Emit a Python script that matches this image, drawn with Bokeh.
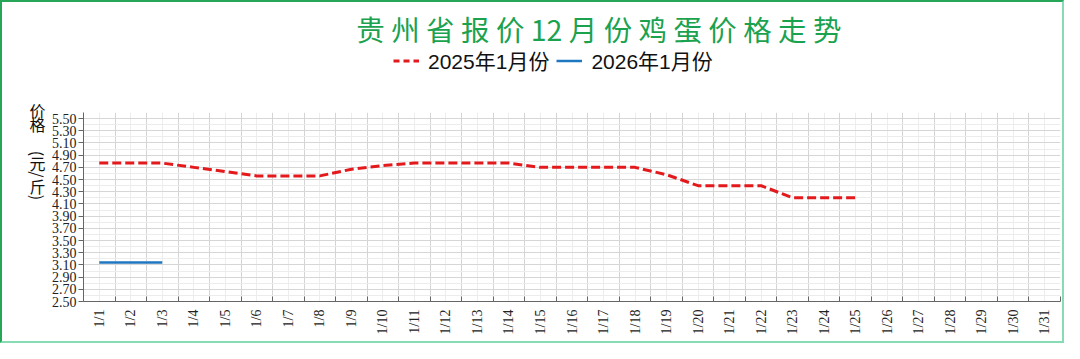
import math
from bokeh.plotting import figure
from bokeh.models import FixedTicker, Label, Legend, LegendItem, Range1d
from bokeh.layouts import column, row
from bokeh.embed import file_html
from bokeh.resources import INLINE

# ---- data ----
days = [f"1/{d}" for d in range(1, 32)]
price_2025 = [4.77, 4.77, 4.77, 4.70, 4.63, 4.56, 4.56, 4.56, 4.67, 4.73,
              4.77, 4.77, 4.77, 4.77, 4.70, 4.70, 4.70, 4.70, 4.58, 4.40,
              4.40, 4.40, 4.20, 4.20, 4.20]
price_2026 = [3.14, 3.14, 3.14]
y_ticks = [2.50, 2.70, 2.90, 3.10, 3.30, 3.50, 3.70, 3.90, 4.10, 4.30,
           4.50, 4.70, 4.90, 5.10, 5.30, 5.50]
title_text = "贵 州 省 报 价 12 月 份 鸡 蛋 价 格 走 势"
series_names = ["2025年1月份", "2026年1月份"]
y_title_upright = ["价", "格", "元", "斤"]
y_title_rotated = ["(", "/", ")"]

RED, BLUE, GREEN = "#e3191c", "#1f77c0", "#1ba24f"
CJK = "Noto Sans CJK SC"
TOP_H, MAIN_H, LEFT_W, MAIN_W = 97, 242, 46, 1014
BL, BR = 32, 2   # left / right borders of the main chart (frames get aligned)


def blank(w, h, bl=0, br=0):
    f = figure(width=w, height=h, output_backend="svg", toolbar_location=None,
               title=None, x_range=Range1d(bl, w - br), y_range=Range1d(h, 0),
               x_axis_type=None, y_axis_type=None,
               min_border=0, min_border_left=bl, min_border_right=br,
               min_border_top=0, min_border_bottom=0)
    f.grid.visible = False
    f.outline_line_color = None
    return f


# ---- top strip: title + legend ----
top = blank(MAIN_W, TOP_H, BL, BR)
top.add_layout(Label(x=549, y=26, text=title_text, text_font=CJK,
                     text_font_size="28.5px", text_color=GREEN,
                     text_align="center", text_baseline="middle"))
# legend sample renderers (kept outside the visible range)
d1 = top.line(x=[-500, -400], y=[-500, -500], line_color=RED, line_width=3,
              line_dash="6 4")
d2 = top.line(x=[-500, -400], y=[-500, -500], line_color=BLUE, line_width=2.5)
legend = Legend(items=[LegendItem(label=series_names[0], renderers=[d1]),
                       LegendItem(label=series_names[1], renderers=[d2])],
                orientation="horizontal", location=(310, 24),
                label_text_font="Liberation Sans, Noto Sans CJK SC",
                label_text_font_size="21px", label_text_color="#111111",
                glyph_width=26, glyph_height=21, label_height=21,
                label_standoff=9, spacing=7, padding=0, margin=0,
                border_line_alpha=0, background_fill_alpha=0)
top.add_layout(legend)

# ---- left strip (full height): y-axis title written vertically ----
left = blank(LEFT_W, TOP_H + MAIN_H)
for ch, yy in zip(y_title_upright, [107.5, 121.5, 160, 183]):
    left.add_layout(Label(x=35, y=yy, text=ch, text_font=CJK,
                          text_font_size="16px", text_color="#111111",
                          text_align="center", text_baseline="middle"))
for ch, yy in zip(y_title_rotated, [151, 172, 195]):
    left.add_layout(Label(x=35, y=yy, text=ch, angle=-math.pi / 2, text_font=CJK,
                          text_font_size="16px", text_color="#111111",
                          text_align="center", text_baseline="middle"))

# ---- main chart ----
p = figure(width=MAIN_W, height=MAIN_H, output_backend="svg", toolbar_location=None,
           title=None, x_range=Range1d(0.5, 31.5), y_range=Range1d(2.5, 5.6),
           min_border_left=BL, min_border_right=BR,
           min_border_top=13, min_border_bottom=40)
p.outline_line_color = None

xpos = list(range(1, len(days) + 1))
bounds = [i + 0.5 for i in range(0, len(days) + 1)]
mid_y = [round(v + 0.1, 2) for v in y_ticks]

p.xgrid.ticker = FixedTicker(ticks=xpos, minor_ticks=bounds)
p.xgrid.grid_line_color = "#ededed"
p.xgrid.minor_grid_line_color = "#d4d4d4"
p.ygrid.ticker = FixedTicker(ticks=y_ticks, minor_ticks=mid_y)
p.ygrid.grid_line_color = "#d6d6d6"
p.ygrid.minor_grid_line_color = "#ececec"

xa = p.xaxis[0]
xa.ticker = FixedTicker(ticks=xpos, minor_ticks=bounds)
xa.major_label_overrides = {i: d for i, d in zip(xpos, days)}
xa.major_label_orientation = math.pi / 2
xa.major_tick_line_color = None
xa.major_tick_out = 0
xa.major_tick_in = 0
xa.minor_tick_line_color = "#666666"
xa.minor_tick_in = 5
xa.minor_tick_out = 0
xa.axis_line_color = "#666666"
xa.major_label_text_font = "Liberation Serif"
xa.major_label_text_font_size = "14px"
xa.major_label_text_color = "#222222"
xa.major_label_standoff = 8

ya = p.yaxis[0]
ya.ticker = FixedTicker(ticks=y_ticks)
ya.major_label_overrides = {v: f"{v:.2f}" for v in y_ticks}
ya.axis_line_color = "#666666"
ya.major_tick_line_color = "#666666"
ya.major_tick_out = 5
ya.major_tick_in = 0
ya.minor_tick_line_color = None
ya.major_label_text_font = "Liberation Serif"
ya.major_label_text_font_size = "14px"
ya.major_label_text_color = "#222222"
ya.major_label_standoff = 2

p.line(xpos[:len(price_2025)], price_2025, line_color=RED,
       line_width=3, line_dash="9 4")
p.line(xpos[:len(price_2026)], price_2026, line_color=BLUE, line_width=2.5)

layout = row(left, column(top, p, spacing=0), spacing=0)
layout.styles = {"border-top": "2px solid #27a558", "border-left": "2px solid #27a558",
                 "border-right": "2px solid #86dcb4", "border-bottom": "2px solid #86dcb4"}

open("out.html", "w").write(file_html(layout, INLINE))
